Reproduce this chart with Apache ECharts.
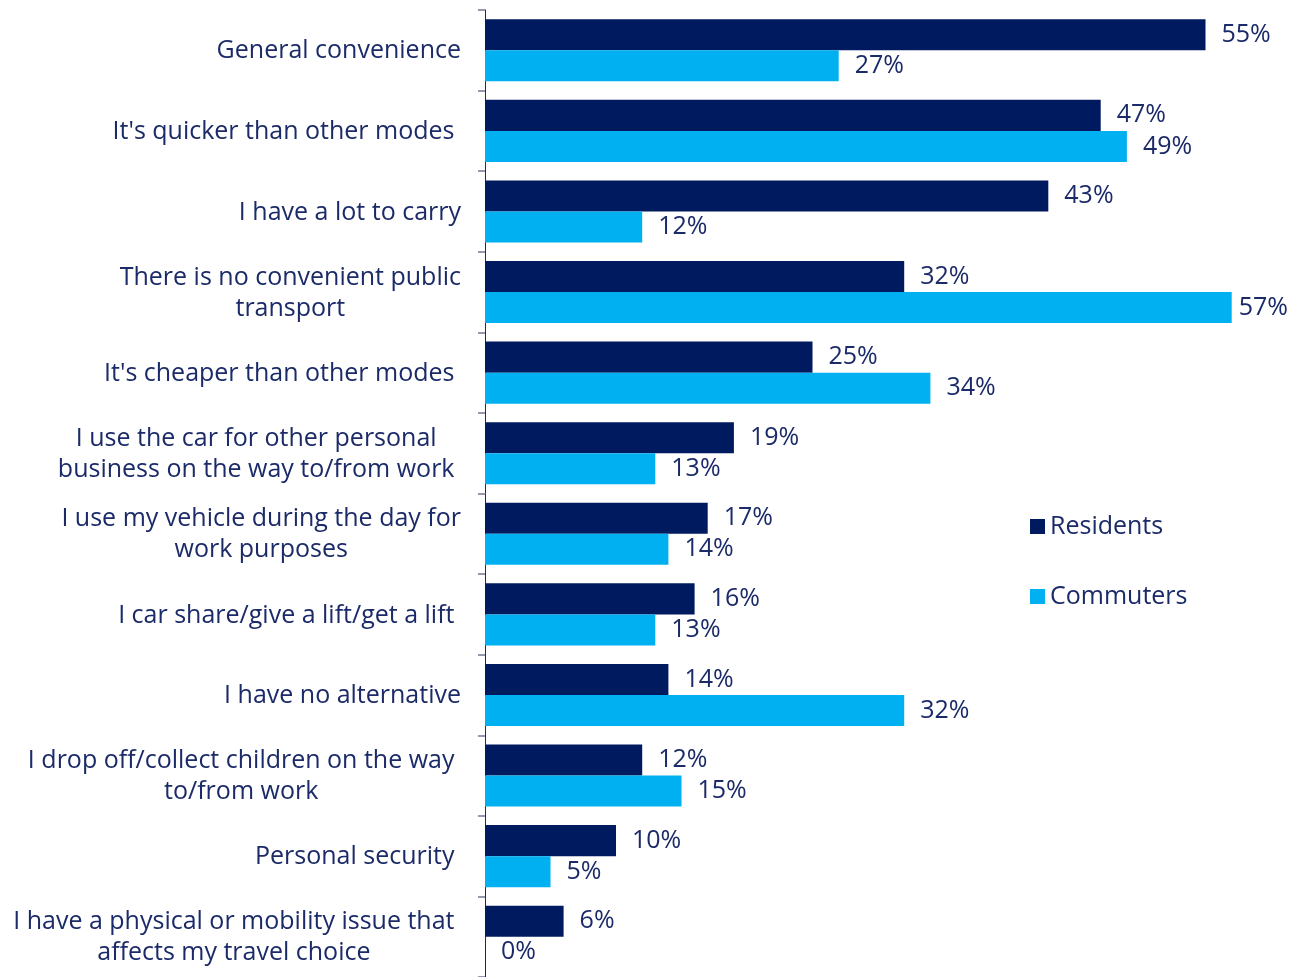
<!DOCTYPE html>
<html>
<head>
<meta charset="utf-8">
<script src="https://cdn.jsdelivr.net/npm/echarts@6/dist/echarts.min.js"></script>
<style>
  html, body { margin: 0; padding: 0; background: #ffffff; }
  #chart { width: 1295px; height: 977px; }
</style>
</head>
<body>
<div id="chart"></div>
<script>
// Reasons for driving, share of respondents (%)
const categories = [
  'General convenience',
  "It's quicker than other modes ",
  'I have a lot to carry',
  'There is no convenient public\ntransport',
  "It's cheaper than other modes ",
  'I use the car for other personal \nbusiness on the way to/from work ',
  'I use my vehicle during the day for\nwork purposes',
  'I car share/give a lift/get a lift ',
  'I have no alternative',
  'I drop off/collect children on the way \nto/from work ',
  'Personal security ',
  'I have a physical or mobility issue that \naffects my travel choice '
];
const residents = [55, 47, 43, 32, 25, 19, 17, 16, 14, 12, 10, 6];
const commuters = [27, 49, 12, 57, 34, 13, 14, 13, 32, 15, 5, 0];

const textColor = '#1b2a68';
const fontFamily = '"Open Sans", Lato, sans-serif';
const fontSize = 25;
const axisMax = 60;

const chart = echarts.init(document.getElementById('chart'), null, { renderer: 'canvas' });

const valueLabel = {
  show: true,
  position: 'right',
  distance: 16,
  formatter: p => p.value + '%',
  color: textColor,
  fontSize: fontSize,
  fontFamily: fontFamily
};

// labels of bars that reach the right edge are pulled closer to the bar
const withLabelFit = values => values.map(v =>
  v > axisMax - 5 ? { value: v, label: { distance: 7 } } : v
);

chart.setOption({
  animation: false,
  backgroundColor: '#ffffff',
  textStyle: { fontFamily: fontFamily },
  grid: { left: 485, top: 10, bottom: 0, width: 786, containLabel: false },
  legend: {
    orient: 'vertical',
    left: 1030,
    top: 514,
    padding: 0,
    itemWidth: 15,
    itemHeight: 15,
    itemGap: 45,
    icon: 'rect',
    textStyle: { color: textColor, fontSize: fontSize, fontFamily: fontFamily },
    data: ['Residents', 'Commuters']
  },
  xAxis: {
    type: 'value',
    min: 0,
    max: axisMax,
    show: false
  },
  yAxis: {
    type: 'category',
    data: categories,
    inverse: true,
    axisLine: { show: true, lineStyle: { color: '#1c2a62', width: 1 } },
    axisTick: { show: true, length: 7, lineStyle: { color: '#6f7896', width: 1.5 } },
    axisLabel: {
      margin: 24,
      align: 'right',
      // each line centred within the right-aligned label block
      formatter: v => v.split('\n').map(l => '{c|' + l + '}').join('\n'),
      rich: {
        c: {
          align: 'center',
          color: textColor,
          fontSize: fontSize,
          lineHeight: 31,
          fontFamily: fontFamily,
          padding: [2, 0, 0, 0]
        }
      }
    }
  },
  series: [
    {
      name: 'Residents',
      type: 'bar',
      data: withLabelFit(residents),
      itemStyle: { color: '#001a5f' },
      barCategoryGap: '23%',
      barGap: '0%',
      label: valueLabel
    },
    {
      name: 'Commuters',
      type: 'bar',
      data: withLabelFit(commuters),
      itemStyle: { color: '#00b0f0' },
      barCategoryGap: '23%',
      barGap: '0%',
      label: valueLabel
    }
  ]
});
</script>
</body>
</html>
